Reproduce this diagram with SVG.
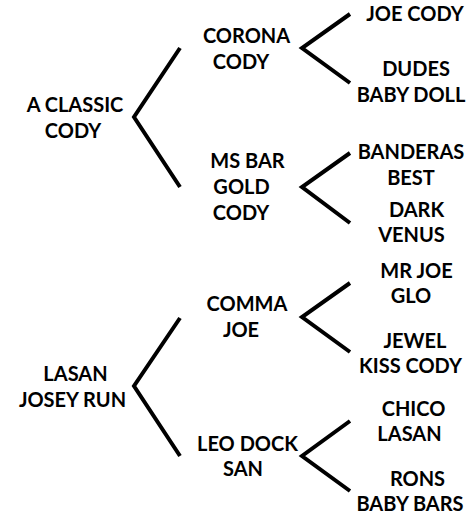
<svg xmlns="http://www.w3.org/2000/svg" width="475" height="516" viewBox="0 0 475 516">
<style>
text{font-family:Lato,"Liberation Sans",sans-serif;font-weight:700;font-size:20px;fill:#000;text-anchor:middle}
.br{fill:none;stroke:#000;stroke-width:4;stroke-linejoin:miter;stroke-miterlimit:10}
</style>
<rect width="475" height="516" fill="#fff"/>
<g id="connectors">
<polyline class="br" points="180,48 134,117 180,187"/>
<polyline class="br" points="350,14 302,48 350,83"/>
<polyline class="br" points="350,153 302,187 350,223"/>
<polyline class="br" points="180,318 134,386 180,456"/>
<polyline class="br" points="350,283 302,317 350,352"/>
<polyline class="br" points="350,421 302,456 350,491"/>
</g>
<g id="a-classic-cody"><text x="75" y="112">A CLASSIC</text><text x="73" y="138">CODY</text></g>
<g id="corona-cody"><text x="246.5" y="43">CORONA</text><text x="241" y="69">CODY</text></g>
<g id="ms-bar-gold-cody"><text x="247.5" y="168">MS BAR</text><text x="241.5" y="194">GOLD</text><text x="241" y="220">CODY</text></g>
<g id="joe-cody"><text x="415" y="21">JOE CODY</text></g>
<g id="dudes-baby-doll"><text x="416" y="76">DUDES</text><text x="411" y="101.5">BABY DOLL</text></g>
<g id="banderas-best"><text x="411" y="159">BANDERAS</text><text x="411" y="185">BEST</text></g>
<g id="dark-venus"><text x="416.5" y="216.5">DARK</text><text x="411.5" y="241.5">VENUS</text></g>
<g id="lasan-josey-run"><text x="75.5" y="381">LASAN</text><text x="72.5" y="406.5">JOSEY RUN</text></g>
<g id="comma-joe"><text x="247" y="311">COMMA</text><text x="241" y="336.5">JOE</text></g>
<g id="leo-dock-san"><text x="247.5" y="451">LEO DOCK</text><text x="243" y="476">SAN</text></g>
<g id="mr-joe-glo"><text x="416.5" y="277.5">MR JOE</text><text x="411" y="302.5">GLO</text></g>
<g id="jewel-kiss-cody"><text x="415" y="347.5">JEWEL</text><text x="410.5" y="372.5">KISS CODY</text></g>
<g id="chico-lasan"><text x="413.5" y="416">CHICO</text><text x="409.5" y="441">LASAN</text></g>
<g id="rons-baby-bars"><text x="417.5" y="486">RONS</text><text x="410" y="511">BABY BARS</text></g>
</svg>
